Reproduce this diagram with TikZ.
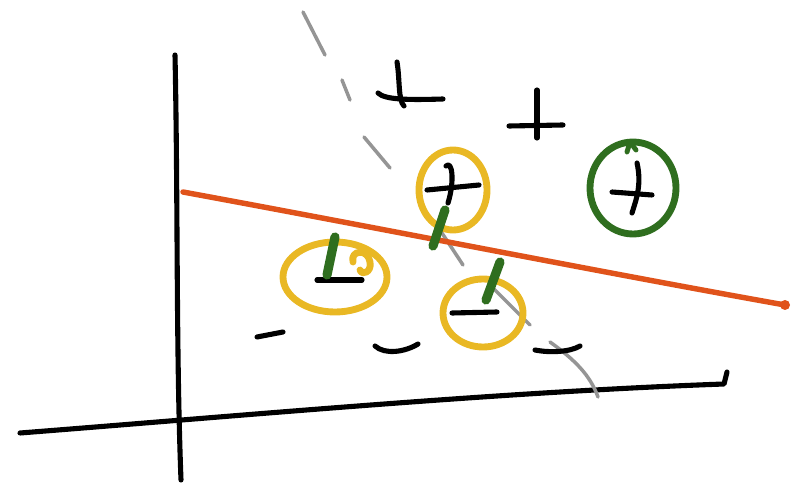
\documentclass[tikz,border=0pt]{standalone}
\usepackage{xcolor}
\usepackage{tikz}
\usetikzlibrary{calc}

\definecolor{penred}{HTML}{E0531B}
\definecolor{penyellow}{HTML}{E9B824}
\definecolor{pengreen}{HTML}{2F6E1F}
\definecolor{pengray}{HTML}{959595}

\begin{document}
\begin{tikzpicture}[x=0.02cm,y=-0.02cm,line cap=round,line join=round,
    ink/.style={black,line width=2.9pt},
    sep/.style={penred,line width=3.1pt},
    guess/.style={pengray,line width=2pt},
    ring/.style={penyellow,line width=3.9pt},
    okring/.style={pengreen,line width=3.9pt},
    tick/.style={pengreen,line width=5.2pt}]
    \useasboundingbox (0,0) rectangle (804,496);
    % axes
    \draw[ink] (175,55) .. controls (178,200) and (176,350) .. (181,480);
    \draw[ink] (20,433) .. controls (250,415) and (500,392) .. (724,384) -- (727,372);
    % gray dashed boundary
    \draw[guess] (303,12) -- (325,55);
    \draw[guess] (342,80) -- (350,100);
    \draw[guess] (364,137) -- (390,168);
    \draw[guess] (438,227) -- (463,265);
    \draw[guess] (490,285) -- (530,325);
    \draw[guess] (550,342) .. controls (575,360) and (590,375) .. (598,397);
    % red boundary
    \draw[sep] (183,192) .. controls (400,232) and (600,272) .. (785,305);
    \fill[penred] (785,305) circle (5);
    % positives
    \draw[ink] (397,62) .. controls (400,80) and (398,100) .. (404,106);
    \draw[ink] (378,93) .. controls (385,100) and (410,100) .. (443,99);
    \draw[ink] (537,90) -- (537,138);
    \draw[ink] (509,126) -- (563,125);
    \draw[ink] (446,166) .. controls (452,160) and (455,180) .. (448,203);
    \draw[ink] (427,190) -- (479,185);
    \draw[ink] (637,163) .. controls (642,185) and (636,200) .. (632,213);
    \draw[ink] (612,192) -- (652,195);
    % negatives
    \draw[ink] (317,280) -- (362,280);
    \draw[ink] (452,313) -- (497,312);
    \draw[ink] (257,337) -- (283,332);
    \draw[ink] (375,346) .. controls (385,355) and (405,352) .. (418,344);
    \draw[ink] (535,350) .. controls (550,353) and (570,352) .. (580,346);
    % circled points
    \draw[ring] (453,190) ellipse (34 and 40);
    \draw[ring] (335,277) ellipse (52 and 35);
    \draw[ring] (353,262) .. controls (350,250) and (368,248) .. (370,262) .. controls (372,272) and (362,276) .. (360,270);
    \draw[ring] (483,313) ellipse (40 and 34);
    \draw[okring] (633,188) ellipse (43 and 46);
    \draw[pengreen,line width=2.8pt] (627,152) -- (630,142) -- (636,150);
    % green marks
    \draw[tick] (335,237) -- (327,275);
    \draw[tick] (445,210) -- (433,246);
    \draw[tick] (500,262) -- (486,300);
\end{tikzpicture}
\end{document}
